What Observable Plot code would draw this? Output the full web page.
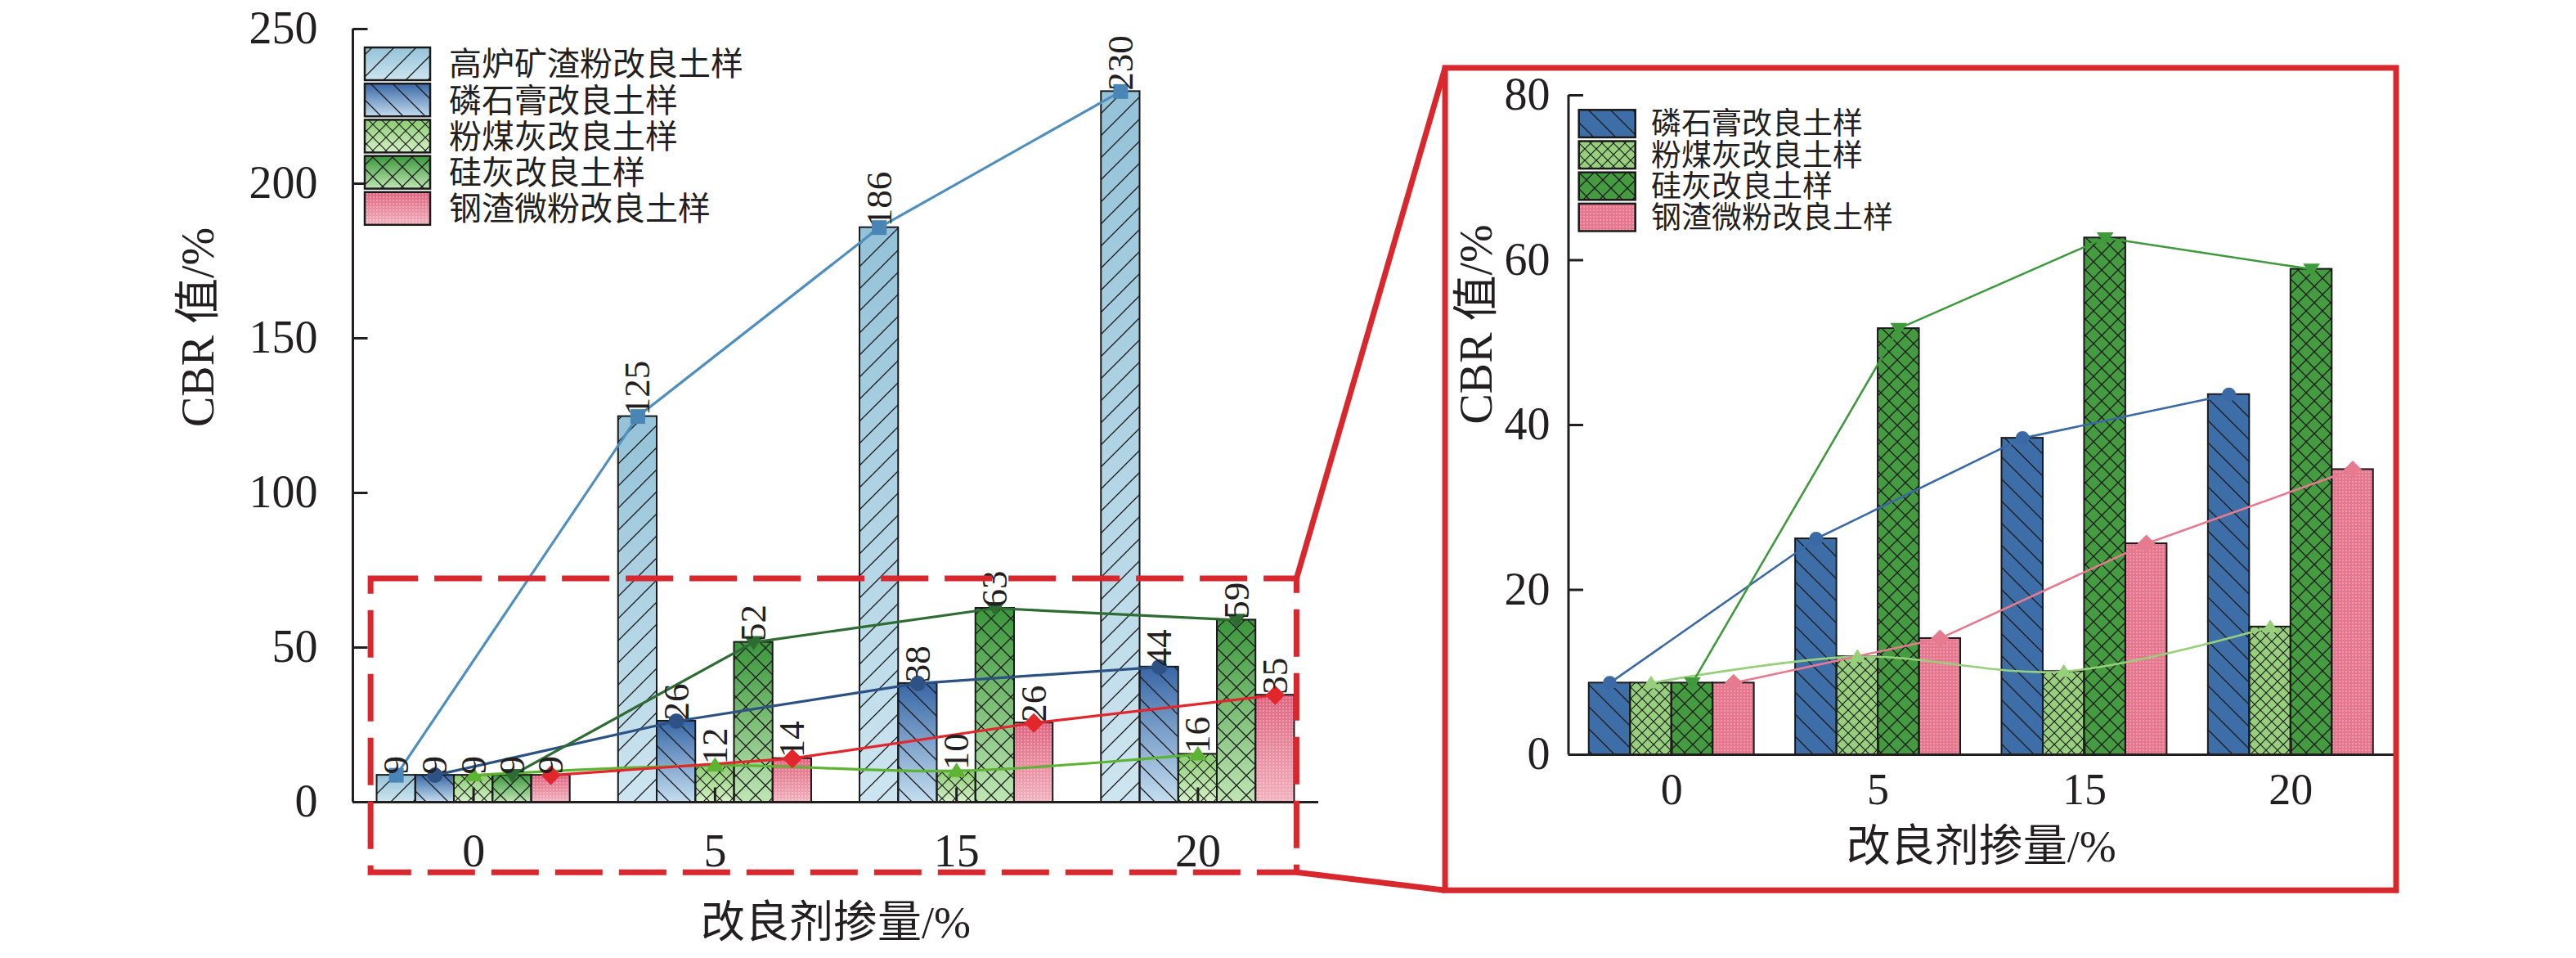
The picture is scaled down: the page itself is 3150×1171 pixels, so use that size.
<!DOCTYPE html>
<html>
<head>
<meta charset="utf-8">
<script src="https://cdn.jsdelivr.net/npm/d3@7"></script>
<script src="https://cdn.jsdelivr.net/npm/@observablehq/plot@0.6"></script>
<style>
html, body { margin: 0; padding: 0; background: #ffffff; }
#wrap { position: relative; width: 3150px; height: 1171px; overflow: hidden; background: #ffffff; }
#wrap > svg { position: absolute; top: 0; }
</style>
</head>
<body>
<div id="wrap"></div>
<script>
// ---------------- data ----------------
const categories = ["0", "5", "15", "20"];
const seriesNames = ["高炉矿渣粉改良土样", "磷石膏改良土样", "粉煤灰改良土样", "硅灰改良土样", "钢渣微粉改良土样"];
const slagPowder    = [8.7, 124.7, 185.8, 229.8];
const phosphogypsum = [8.7, 26.2, 38.4, 43.7];
const flyAsh        = [8.7, 11.9, 10.1, 15.5];
const silicaFume    = [8.7, 51.7, 62.7, 58.9];
const steelSlag     = [8.7, 14.1, 25.6, 34.6];
const leftTicks  = [0, 50, 100, 150, 200, 250];
const rightTicks = [0, 20, 40, 60, 80];
const xTitle = "改良剂掺量/%";
const yTitle = "CBR 值/%";
// zoom window of the inset (in left-chart units) and inset frame (in right-chart units)
const zoomWindow = {x1: 0.075, x2: 3.91, y1: -22.8, y2: 72.2};
const insetFrame = {x1: -0.596, x2: 4.012, y1: -16.5, y2: 83.28};

// ---------------- styles ----------------
const FONT = '"Liberation Serif", "Times New Roman", "Noto Sans CJK SC", serif';
const INK = "#231f20";
const RED = "#d8272d";

const wrap = d3.select("#wrap");

// shared defs (gradients + hatches)
const defsSvg = wrap.append("svg").attr("width", 0).attr("height", 0).style("left", "0px");
const defs = defsSvg.append("defs");
const grads = {
  gL0: ["#94c2d8", "#cde5f0"],
  gL1: ["#3867a6", "#c4ddef"],
  gL2: ["#8bcc71", "#d5f0c8"],
  gL3: ["#3a963a", "#bfe6b4"],
  gL4: ["#de6580", "#f3b2bf"]
};
for (const [id, [a, b]] of Object.entries(grads)) {
  const g = defs.append("linearGradient").attr("id", id).attr("x1", 0).attr("y1", 0).attr("x2", 0).attr("y2", 1);
  g.append("stop").attr("offset", "0%").attr("stop-color", a);
  g.append("stop").attr("offset", "100%").attr("stop-color", b);
}
function hatch(id, p, kind, w) {
  const pat = defs.append("pattern").attr("id", id).attr("patternUnits", "userSpaceOnUse")
    .attr("width", p).attr("height", p);
  let d;
  if (kind === "slash") d = `M${-p/2},${p/2}L${p/2},${-p/2}M0,${p}L${p},0M${p/2},${1.5*p}L${1.5*p},${p/2}`;
  else if (kind === "back") d = `M${-p/2},${p/2}L${p/2},${1.5*p}M0,0L${p},${p}M${p/2},${-p/2}L${1.5*p},${p/2}`;
  else d = `M0,0L${p},${p}M${p},0L0,${p}`;
  pat.append("path").attr("d", d).attr("stroke", "#1a1a1a").attr("stroke-width", w).attr("fill", "none");
}
function dots(id, p, color) {
  const pat = defs.append("pattern").attr("id", id).attr("patternUnits", "userSpaceOnUse")
    .attr("width", p).attr("height", p);
  pat.append("rect").attr("x", 0).attr("y", 0).attr("width", p / 2).attr("height", p / 2).attr("fill", color);
}
hatch("hSlashL", 27, "slash", 1.3);
hatch("hBackL", 27, "back", 1.3);
hatch("hCrossFineL", 16, "cross", 1.2);
hatch("hCrossWideL", 24, "cross", 1.3);
dots("hDotsL", 4, "rgba(255,255,255,0.28)");
hatch("hBackR", 27, "back", 1.3);
hatch("hCrossFineR", 14, "cross", 1.2);
hatch("hCrossWideR", 20, "cross", 1.3);
dots("hDotsR", 4, "rgba(255,255,255,0.25)");

// marker symbols
const rad = (size) => Math.sqrt(size / Math.PI);
const symSquare = {draw(ctx, size) { const r = rad(size); ctx.rect(-r, -r, 2 * r, 2 * r); }};
const symCircle = {draw(ctx, size) { const r = rad(size); ctx.moveTo(r, 0); ctx.arc(0, 0, r, 0, 2 * Math.PI); ctx.closePath(); }};
const symTriUp = {draw(ctx, size) { const r = rad(size); ctx.moveTo(0, -r); ctx.lineTo(r * 1.15, r * 0.75); ctx.lineTo(-r * 1.15, r * 0.75); ctx.closePath(); }};
const symTriDown = {draw(ctx, size) { const r = rad(size); ctx.moveTo(0, r); ctx.lineTo(r * 1.15, -r * 0.75); ctx.lineTo(-r * 1.15, -r * 0.75); ctx.closePath(); }};
const symDiamond = {draw(ctx, size) { const r = rad(size); ctx.moveTo(0, -r); ctx.lineTo(r, 0); ctx.lineTo(0, r); ctx.lineTo(-r, 0); ctx.closePath(); }};
const tickUp = {draw(ctx) { ctx.moveTo(0, 0); ctx.lineTo(0, -18); }};
const tickRight = {draw(ctx) { ctx.moveTo(0, 0); ctx.lineTo(18, 0); }};

// ---------------- series definitions ----------------
const leftValues = [slagPowder, phosphogypsum, flyAsh, silicaFume, steelSlag];
const leftStyle = [
  {base: "url(#gL0)", hatch: "url(#hSlashL)", line: "#4f8fbf", marker: "#4a86b5", symbol: symSquare, r: 9, curve: "linear"},
  {base: "url(#gL1)", hatch: "url(#hBackL)", line: "#2c5183", marker: "#2d5283", symbol: symCircle, r: 9.5, curve: "linear"},
  {base: "url(#gL2)", hatch: "url(#hCrossFineL)", line: "#5db432", marker: "#5db432", symbol: symTriUp, r: 10, curve: "catmull-rom"},
  {base: "url(#gL3)", hatch: "url(#hCrossWideL)", line: "#2e6c33", marker: "#2e6c33", symbol: symTriDown, r: 10, curve: "linear"},
  {base: "url(#gL4)", hatch: "url(#hDotsL)", line: "#e3262b", marker: "#e3262b", symbol: symDiamond, r: 12, curve: "linear"}
];
const rightValues = [phosphogypsum, flyAsh, silicaFume, steelSlag];
const rightNames = seriesNames.slice(1);
const rightStyle = [
  {base: "#3d6ea8", hatch: "url(#hBackR)", line: "#3a69a6", marker: "#3a69a6", symbol: symCircle, r: 8.5, curve: "linear"},
  {base: "#97cf7c", hatch: "url(#hCrossFineR)", line: "#97d07a", marker: "#97d07a", symbol: symTriUp, r: 9, curve: "catmull-rom"},
  {base: "#459b3f", hatch: "url(#hCrossWideR)", line: "#3f9a3d", marker: "#3f9a3d", symbol: symTriDown, r: 9, curve: "linear"},
  {base: "#e5788f", hatch: "url(#hDotsR)", line: "#e67a8f", marker: "#e67a8f", symbol: symDiamond, r: 11, curve: "linear"}
];

function buildRows(valuesList) {
  const n = valuesList.length, w = 0.8 / n;
  return valuesList.map((vals, j) => vals.map((v, i) => ({
    j, i, cat: categories[i], value: v,
    x1: i + 0.1 + j * w, x2: i + 0.1 + (j + 1) * w, xc: i + 0.1 + (j + 0.5) * w
  })));
}
const rowsL = buildRows(leftValues);
const rowsR = buildRows(rightValues);

function seriesMarks(rows, styles) {
  const m = [];
  rows.forEach((r, j) => m.push(Plot.rect(r, {x1: "x1", x2: "x2", y1: 0, y2: "value", fill: styles[j].base})));
  rows.forEach((r, j) => m.push(Plot.rect(r, {x1: "x1", x2: "x2", y1: 0, y2: "value", fill: styles[j].hatch, stroke: "#1a1a1a", strokeWidth: 2})));
  return m;
}
function lineMarks(rows, styles, lineWidth) {
  const m = [];
  rows.forEach((r, j) => m.push(Plot.line(r, {x: "xc", y: "value", stroke: styles[j].line, strokeWidth: lineWidth, curve: styles[j].curve})));
  rows.forEach((r, j) => m.push(Plot.dot(r, {x: "xc", y: "value", symbol: styles[j].symbol, r: styles[j].r, fill: styles[j].marker, stroke: "none"})));
  return m;
}
function axisMarks(ticks, ymax) {
  return [
    Plot.dot(categories, {x: (d, i) => i + 0.5, y: 0, symbol: tickUp, r: 1, fill: "none", stroke: INK, strokeWidth: 3}),
    Plot.ruleY([0], {y: d => d, x1: 0, x2: 4, stroke: INK, strokeWidth: 3}),
    Plot.ruleX([0], {x: d => d, y1: 0, y2: ymax, stroke: INK, strokeWidth: 3}),
    Plot.dot(ticks, {x: 0, y: d => d, symbol: tickRight, r: 1, fill: "none", stroke: INK, strokeWidth: 3})
  ];
}

// ---------------- left chart ----------------
const left = Plot.plot({
  width: 1700, height: 1171,
  marginLeft: 431, marginRight: 88, marginTop: 35, marginBottom: 191,
  x: {type: "linear", domain: [0, 4], axis: null},
  y: {type: "linear", domain: [0, 250], axis: null},
  style: {fontFamily: FONT, background: "transparent", color: INK, overflow: "visible"},
  marks: [
    ...seriesMarks(rowsL, leftStyle),
    ...axisMarks(leftTicks, 250),
    ...lineMarks(rowsL, leftStyle, 3.2),
    Plot.text(rowsL.flat(), {x: "xc", y: "value", text: d => String(Math.round(d.value)), rotate: -90,
      textAnchor: "start", lineAnchor: "middle", fontSize: 45, fill: INK, dy: -1, fontFamily: FONT}),
    Plot.text(leftTicks, {x: 0, y: d => d, text: d => String(d), textAnchor: "end", lineAnchor: "middle",
      dx: -43, fontSize: 56, fill: INK, fontFamily: FONT}),
    Plot.text(categories, {x: (d, i) => i + 0.5, y: 0, text: d => d, lineAnchor: "middle", dy: 61,
      fontSize: 56, fill: INK, fontFamily: FONT}),
    Plot.text([xTitle], {frameAnchor: "bottom", text: d => d, lineAnchor: "middle", dy: 148, fontSize: 54, fill: INK, fontFamily: FONT}),
    Plot.text([yTitle], {frameAnchor: "left", text: d => d, rotate: -90, lineAnchor: "middle", dx: -188, dy: 14, fontSize: 56, fill: INK, fontFamily: FONT})
  ]
});
d3.select(left).style("left", "0px");
wrap.node().appendChild(left);

// ---------------- right chart ----------------
const RIGHT_OFFSET = 1700;
const right = Plot.plot({
  width: 1450, height: 1171,
  marginLeft: 217.5, marginRight: 223, marginTop: 116, marginBottom: 249,
  x: {type: "linear", domain: [0, 4], axis: null},
  y: {type: "linear", domain: [0, 80], axis: null},
  style: {fontFamily: FONT, background: "transparent", color: INK, overflow: "visible"},
  marks: [
    ...seriesMarks(rowsR, rightStyle),
    ...axisMarks(rightTicks, 80),
    ...lineMarks(rowsR, rightStyle, 2.6),
    Plot.text(rightTicks, {x: 0, y: d => d, text: d => String(d), textAnchor: "end", lineAnchor: "middle",
      dx: -22.5, fontSize: 56, fill: INK, fontFamily: FONT}),
    Plot.text(categories, {x: (d, i) => i + 0.5, y: 0, text: d => d, lineAnchor: "middle", dy: 43,
      fontSize: 54, fill: INK, fontFamily: FONT}),
    Plot.text([xTitle], {frameAnchor: "bottom", text: d => d, lineAnchor: "middle", dy: 113, fontSize: 54, fill: INK, fontFamily: FONT}),
    Plot.text([yTitle], {frameAnchor: "left", text: d => d, rotate: -90, lineAnchor: "middle", dx: -112, dy: -1, fontSize: 56, fill: INK, fontFamily: FONT})
  ]
});
d3.select(right).style("left", RIGHT_OFFSET + "px");
wrap.node().appendChild(right);

// ---------------- legends ----------------
function drawLegend(svg, names, styles, o) {
  const g = d3.select(svg).append("g").attr("text-anchor", "start");
  names.forEach((name, k) => {
    const y = o.y0 + k * o.step;
    g.append("rect").attr("x", o.x).attr("y", y).attr("width", o.w).attr("height", o.h).attr("fill", styles[k].base);
    g.append("rect").attr("x", o.x).attr("y", y).attr("width", o.w).attr("height", o.h).attr("fill", styles[k].hatch)
      .attr("stroke", "#1a1a1a").attr("stroke-width", 2.5);
    g.append("text").attr("x", o.tx).attr("y", y + o.h / 2).attr("dy", "0.36em")
      .attr("text-anchor", "start")
      .attr("font-family", FONT).attr("font-size", o.fs).attr("fill", INK).text(name);
  });
}
drawLegend(left, seriesNames, leftStyle, {x: 446, y0: 58, step: 44.2, w: 80, h: 40, tx: 549, fs: 40});
drawLegend(right, rightNames, rightStyle, {x: 230.7, y0: 134.3, step: 38.2, w: 69, h: 33.6, tx: 319, fs: 37});

// ---------------- zoom frames ----------------
const xL = left.scale("x"), yL = left.scale("y");
const xR = right.scale("x"), yR = right.scale("y");
const dz = {
  x1: xL.apply(zoomWindow.x1), x2: xL.apply(zoomWindow.x2),
  y1: yL.apply(zoomWindow.y2), y2: yL.apply(zoomWindow.y1)
};
const fr = {
  x1: xR.apply(insetFrame.x1) + RIGHT_OFFSET, x2: xR.apply(insetFrame.x2) + RIGHT_OFFSET,
  y1: yR.apply(insetFrame.y2), y2: yR.apply(insetFrame.y1)
};
const ov = wrap.append("svg").attr("width", 3150).attr("height", 1171).style("left", "0px").style("pointer-events", "none");
ov.append("rect").attr("x", dz.x1).attr("y", dz.y1).attr("width", dz.x2 - dz.x1).attr("height", dz.y2 - dz.y1)
  .attr("fill", "none").attr("stroke", RED).attr("stroke-width", 7).attr("stroke-dasharray", "58 20");
ov.append("line").attr("x1", dz.x2).attr("y1", dz.y1).attr("x2", fr.x1).attr("y2", fr.y1)
  .attr("stroke", RED).attr("stroke-width", 7);
ov.append("line").attr("x1", dz.x2).attr("y1", dz.y2).attr("x2", fr.x1).attr("y2", fr.y2)
  .attr("stroke", RED).attr("stroke-width", 7);
ov.append("rect").attr("x", fr.x1).attr("y", fr.y1).attr("width", fr.x2 - fr.x1).attr("height", fr.y2 - fr.y1)
  .attr("fill", "none").attr("stroke", RED).attr("stroke-width", 7);
</script>
</body>
</html>
